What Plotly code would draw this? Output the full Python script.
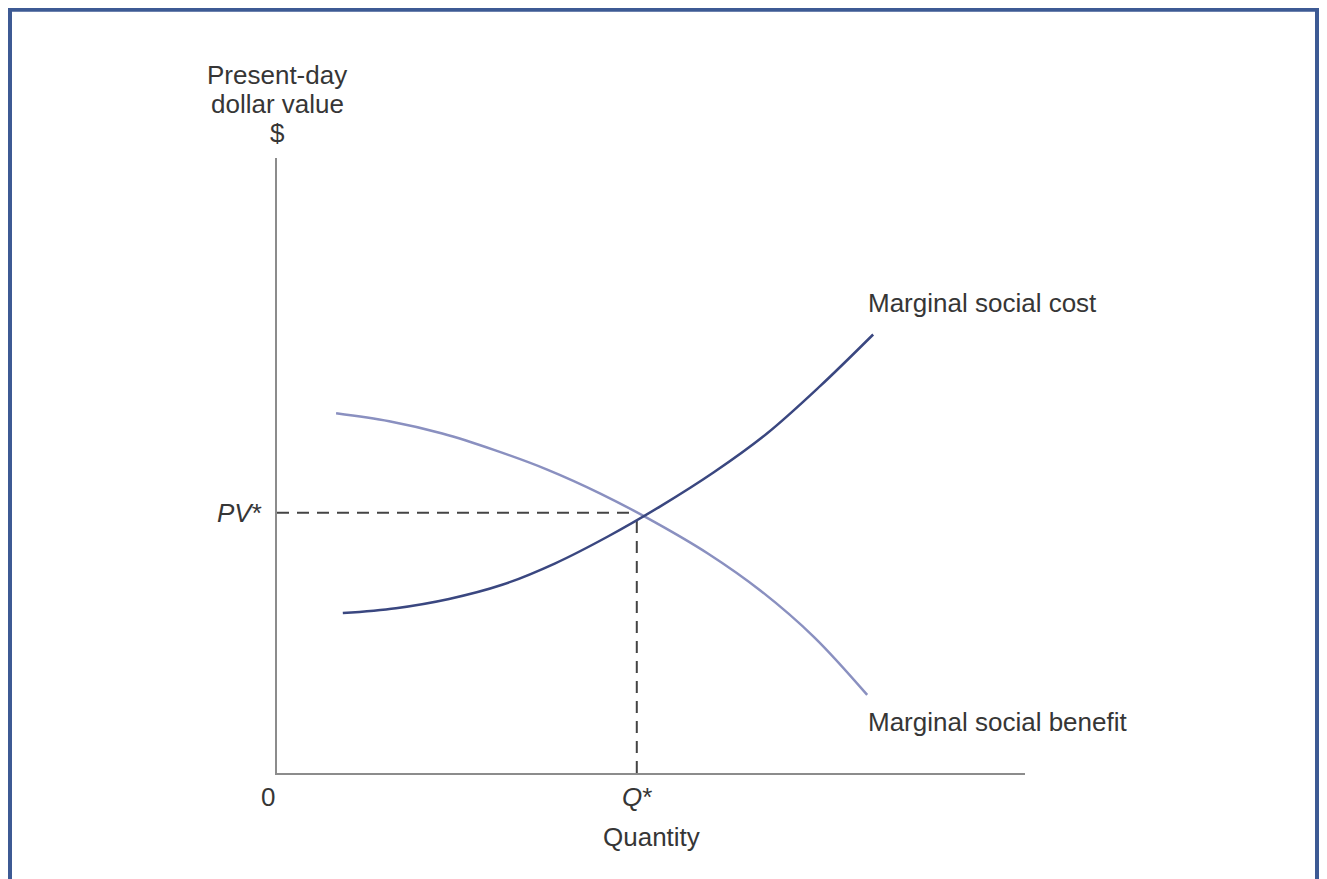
import plotly.graph_objects as go

# ---- data (economic units: quantity on x, present-day dollar value on y) ----
msc_q = [0.88, 1.59, 2.30, 3.01, 3.72, 4.43, 5.13, 5.84, 6.55, 7.26, 7.97]
msc_v = [2.60, 2.68, 2.83, 3.06, 3.41, 3.85, 4.34, 4.89, 5.52, 6.29, 7.13]

msb_q = [0.79, 1.50, 2.21, 2.91, 3.62, 4.33, 5.05, 5.76, 6.47, 7.18, 7.89]
msb_v = [5.85, 5.72, 5.52, 5.25, 4.93, 4.54, 4.08, 3.57, 2.96, 2.21, 1.27]

q_star = 4.81
pv_star = 4.23
msc_at_q_star = 4.12

x_range = [0, 10]
y_range = [0, 10]

series_labels = ["Marginal social cost", "Marginal social benefit"]
y_title_lines = ["Present-day", "dollar value", "$"]
x_title = "Quantity"
origin_label = "0"
q_label = "<i>Q</i>*"
pv_label = "<i>PV</i>*"

FONT = "Liberation Sans, Arial, sans-serif"
TXT = "#363636"
FS = 26

# page body has an 8px margin: figure is sized/offset to compensate
W, H = 1319, 871
L, T = 269, 150
PW, PH = 748, 615
R = W - L - PW
B = H - T - PH


def xp(v):
    return (v - x_range[0]) / (x_range[1] - x_range[0])


def yp(v):
    return (v - y_range[0]) / (y_range[1] - y_range[0])


fig = go.Figure()

# dashed guide lines
dash_style = dict(color="#444444", width=2, dash="12px,8px")
fig.add_trace(go.Scatter(x=[0, q_star], y=[pv_star, pv_star], mode="lines",
                         line=dash_style, hoverinfo="skip", showlegend=False))
fig.add_trace(go.Scatter(x=[q_star, q_star], y=[0, msc_at_q_star], mode="lines",
                         line=dash_style, hoverinfo="skip", showlegend=False))

# curves
fig.add_trace(go.Scatter(x=msb_q, y=msb_v, mode="lines", name=series_labels[1],
                         line=dict(color="#8a90c0", width=2.5, shape="spline", smoothing=1.0),
                         showlegend=False))
fig.add_trace(go.Scatter(x=msc_q, y=msc_v, mode="lines", name=series_labels[0],
                         line=dict(color="#3a4780", width=2.5, shape="spline", smoothing=1.0),
                         showlegend=False))

ann = []


def A(x, y, text, xanchor="center", yanchor="middle"):
    ann.append(dict(x=xp(x), y=yp(y), xref="paper", yref="paper", text=text,
                    showarrow=False, xanchor=xanchor, yanchor=yanchor,
                    font=dict(family=FONT, size=FS, color=TXT)))


A(0, 11.35, y_title_lines[0])
A(0, 10.88, y_title_lines[1])
A(0, 10.40, y_title_lines[2])
A(-0.12, -0.39, origin_label)
A(q_star, -0.39, q_label)
A(5.0, -1.04, x_title)
A(-0.17, pv_star, pv_label, xanchor="right")
A(7.88, 7.64, series_labels[0], xanchor="left")
A(7.88, 0.83, series_labels[1], xanchor="left")


def fx(px):  # figure pixel -> paper x
    return (px - L) / PW


def fy(py):  # figure pixel -> paper y
    return (T + PH - py) / PH


shapes = [dict(type="rect", xref="paper", yref="paper",
               x0=fx(2), x1=fx(1309), y0=fy(900), y1=fy(1.8),
               line=dict(color="#3d5a94", width=4), fillcolor="rgba(0,0,0,0)",
               layer="below")]

fig.update_layout(
    width=W, height=H,
    margin=dict(l=L, r=R, t=T, b=B, pad=0),
    paper_bgcolor="#ffffff", plot_bgcolor="rgba(0,0,0,0)",
    annotations=ann, shapes=shapes,
    xaxis=dict(range=x_range, showgrid=False, zeroline=False, showticklabels=False,
               ticks="", showline=True, linecolor="#8c8c8c", linewidth=2, fixedrange=True),
    yaxis=dict(range=y_range, showgrid=False, zeroline=False, showticklabels=False,
               ticks="", showline=True, linecolor="#8c8c8c", linewidth=2, fixedrange=True),
)

fig.write_html("out.html", config={"displayModeBar": False})
